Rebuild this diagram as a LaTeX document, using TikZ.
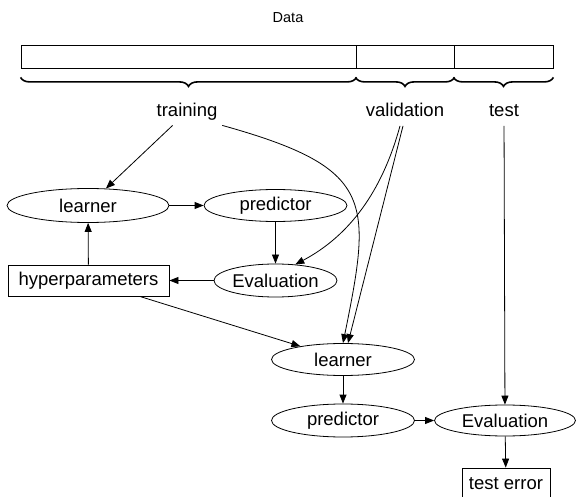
\documentclass[tikz,border=0pt]{standalone}
\usepackage{fontspec}
\setmainfont{Liberation Sans}
\usetikzlibrary{shapes.geometric,arrows.meta,decorations.pathreplacing}

\begin{document}
\begin{tikzpicture}[x=1pt,y=-1pt,
  line width=0.8pt,
  every node/.style={font=\fontsize{18.5}{22}\selectfont},
  lbl/.style={inner sep=4.5pt,anchor=base,text depth=4pt},
  oval/.style={ellipse,draw,inner sep=0pt},
  boxnode/.style={rectangle,draw,inner sep=0pt},
  part/.style={rectangle,draw,inner sep=0pt,minimum height=23pt},
  arr/.style={-{Triangle[length=9pt,width=7pt]}},
  curly/.style={decorate,decoration={brace,mirror,amplitude=9pt},line width=1.6pt}]

  \clip (0,0) rectangle (576,497);
  \fill[white] (0,0) rectangle (576,497);

  % the data set and its three parts
  \node[inner sep=2pt,font=\fontsize{14.5}{17}\selectfont] (data) at (288,18) {Data};
  \node[part,minimum width=335pt] (trainpart) at (188.5,56.5) {};
  \node[part,minimum width=98pt]  (valpart)   at (405,56.5) {};
  \node[part,minimum width=99pt]  (testpart)  at (503.5,56.5) {};

  \draw[curly] ([yshift=-9pt]trainpart.south west) -- ([yshift=-9pt]trainpart.south east);
  \draw[curly] ([yshift=-9pt]valpart.south west) -- ([yshift=-9pt]valpart.south east);
  \draw[curly] ([yshift=-9pt]testpart.south west) -- ([yshift=-9pt]testpart.south east);

  \node[lbl] (training)   at (187,116.5) {training};
  \node[lbl] (validation) at (405,117) {validation};
  \node[lbl] (test)       at (504,117) {test};

  % tuning loop
  \node[oval,minimum width=162pt,minimum height=34pt] (learnerA)   at (88,205.5)   {learner};
  \node[oval,minimum width=143pt,minimum height=32pt] (predictorA) at (275.5,205.5) {predictor};
  \node[oval,minimum width=123pt,minimum height=33pt] (evalA)      at (275.5,280.5) {Evaluation};
  \node[boxnode,minimum width=161pt,minimum height=31pt] (hyper)   at (88.5,280.5) {hyperparameters};

  % final training and testing
  \node[oval,minimum width=143pt,minimum height=32pt] (learnerB)   at (343,359.5) {learner};
  \node[oval,minimum width=143pt,minimum height=33pt] (predictorB) at (343,420.5) {predictor};
  \node[oval,minimum width=141pt,minimum height=31pt] (evalB)      at (505,420.5) {Evaluation};
  \node[boxnode,minimum width=88pt,minimum height=32pt] (testerr)  at (506,484)   {test error};

  % connectors
  \draw[arr] (training) -- (learnerA);
  \draw[arr] (learnerA) -- (predictorA);
  \draw[arr] (predictorA) -- (evalA);
  \draw[arr] (evalA) -- (hyper);
  \draw[arr] (hyper) -- (learnerA);
  \draw[arr] ([xshift=-5pt]validation.south) .. controls (382,192) and (349,236) .. (evalA.39);

  \draw[arr] (training.south east) .. controls (375,168) and (372,200) .. (learnerB.north);
  \draw[arr] ([xshift=-2pt]validation.south) -- ([xshift=5pt]learnerB.north);
  \draw[arr] (hyper) -- (learnerB);
  \draw[arr] (learnerB) -- (predictorB);
  \draw[arr] (predictorB) -- (evalB);
  \draw[arr] (test) -- (evalB);
  \draw[arr] (evalB) -- (testerr);
\end{tikzpicture}
\end{document}
